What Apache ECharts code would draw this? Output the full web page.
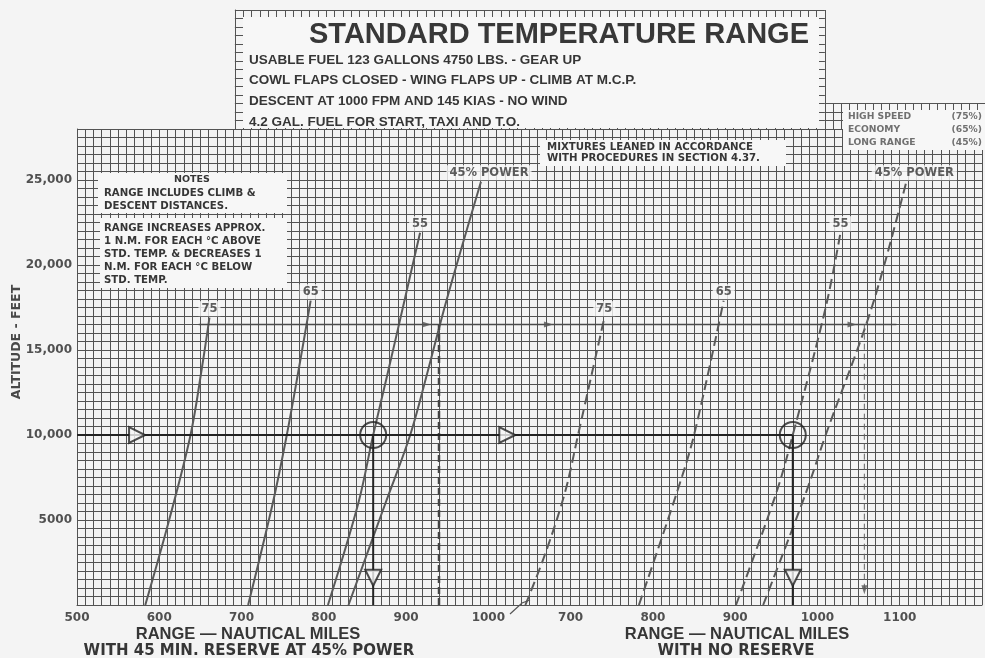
<!DOCTYPE html>
<html>
<head>
<meta charset="utf-8">
<script src="https://cdn.jsdelivr.net/npm/echarts@6/dist/echarts.min.js"></script>
<style>
  html, body { margin: 0; padding: 0; background: #f4f4f4; }
  #chart { width: 985px; height: 658px; }
</style>
</head>
<body>
<div id="chart"></div>
<script>
// ---- scales -------------------------------------------------------------
// The "no reserve" scale is the "with reserve" scale shifted by 400 NM:
// 1000 NM (reserve) sits where 600 NM (no reserve) would be.
const scaleShift = 400;

// ---- tick labels --------------------------------------------------------
const altitudeTicks = [5000, 10000, 15000, 20000, 25000];
const altitudeTickLabels = ['5000', '10,000', '15,000', '20,000', '25,000'];
const reserveRangeTicks = [500, 600, 700, 800, 900, 1000];
const noReserveRangeTicks = [700, 800, 900, 1000, 1100];

// ---- power curves: [range NM, altitude ft] -----------------------------
// with 45 min reserve at 45% power (solid)
const reserve75 = [[583, 0], [612, 5000], [638, 10000], [652, 14000], [661, 16900]];
const reserve65 = [[708, 0], [738, 6000], [755, 10000], [770, 14000], [784, 17900]];
const reserve55 = [[805, 0], [842, 6000], [860, 10000], [877, 13500], [898, 17900], [917, 21900]];
const reserve45 = [[830, 0], [875, 6000], [905, 10000], [925, 13500], [949, 17900], [991, 24900]];
// no reserve (dashed)
const noReserve75 = [[645, 0], [669, 3000], [693, 6600], [709, 10000], [741, 16900]];
const noReserve65 = [[783, 0], [829, 6600], [850, 10000], [886, 17900]];
const noReserve55 = [[901, 0], [950, 6600], [970, 10000], [1010, 17500], [1028, 21900]];
const noReserve45 = [[934, 0], [986, 6600], [1010, 10000], [1066, 17500], [1108, 24900]];
const curveLabels = ['75', '65', '55', '45% POWER'];

// ---- worked example -----------------------------------------------------
const exampleAltitude = 10000;
const exampleReserveRange = 860;
const exampleNoReserveRange = 970;
const examplePathArrowsReserve = [573];      // right-pointing, reserve scale
const examplePathArrowsNoReserve = [623];    // right-pointing, no-reserve scale
const exampleDropArrowAltitude = 1600;

// ---- 16,500 ft reference line and drop lines ---------------------------
const refAltitude = 16500;
const refLineReserveStart = 648;
const refLineNoReserveEnd = 1096;
const refDropReserve = 940;
const refDropNoReserve = 1057;
const refDropArrowAltitude = 900;
const refMarksReserve = [925];
const refMarksNoReserve = [673, 1042];

// ---- layout -------------------------------------------------------------
const PLOT_LEFT = 77;
const PX_PER_NM = 0.831;
const PX_PER_FT = 0.017;
const PLOT_BOTTOM = 605;
const RANGE_MIN = 500, RANGE_MAX = 1600;
const ALT_MAX = 28000;
const plotTop = PLOT_BOTTOM - ALT_MAX * PX_PER_FT;

const GRID_COLOR = '#535353';
const CURVE_COLOR = '#5a5a5a';
const INK = '#222';
const TEXT = '#363636';
const FONT = '"Liberation Sans", Arial, sans-serif';
const WIDE = '"DejaVu Sans", "Liberation Sans", sans-serif';

function gridAxisX(gridIndex, min, max, extra) {
  return Object.assign({
    type: 'value', gridIndex, min, max, interval: 10, position: 'bottom',
    axisLine: { show: true, onZero: false, lineStyle: { color: GRID_COLOR, width: 1 } },
    axisTick: { show: false },
    axisLabel: { show: false },
    splitLine: { show: true, lineStyle: { color: GRID_COLOR, width: 1 } }
  }, extra || {});
}
function gridAxisY(gridIndex, min, max, extra) {
  return Object.assign({
    type: 'value', gridIndex, min, max, interval: 500,
    axisLine: { show: true, lineStyle: { color: GRID_COLOR, width: 1 } },
    axisTick: { show: false },
    axisLabel: { show: false },
    splitLine: { show: true, lineStyle: { color: GRID_COLOR, width: 1 } }
  }, extra || {});
}

const tickLabelStyle = { color: '#505050', fontFamily: WIDE, fontWeight: 'bold', fontSize: 12 };

const xAxes = [
  gridAxisX(0, RANGE_MIN, RANGE_MAX, {
    axisLabel: Object.assign({
      show: true, interval: 0, margin: 7,
      formatter: v => reserveRangeTicks.includes(v) ? String(v) : ''
    }, tickLabelStyle)
  }),
  gridAxisX(0, RANGE_MIN - scaleShift, RANGE_MAX - scaleShift, {
    axisLine: { show: false },
    splitLine: { show: false },
    axisLabel: Object.assign({
      show: true, interval: 0, margin: 7,
      formatter: v => noReserveRangeTicks.includes(v) ? String(v) : ''
    }, tickLabelStyle)
  }),
  gridAxisX(1, 690, 1400),
  gridAxisX(2, 1400, 1600)
];
const yAxes = [
  gridAxisY(0, 0, ALT_MAX, {
    axisLabel: Object.assign({
      show: true, interval: 0, margin: 5,
      formatter: v => { const i = altitudeTicks.indexOf(v); return i >= 0 ? altitudeTickLabels[i] : ''; }
    }, tickLabelStyle)
  }),
  gridAxisY(1, 28000, 35000),
  gridAxisY(2, 28000, 29500)
];

function curve(name, data, axis, dashed) {
  return {
    name, type: 'line', xAxisIndex: axis, yAxisIndex: 0, data,
    smooth: 0.35, symbol: 'none', z: 3,
    lineStyle: { color: CURVE_COLOR, width: 2, type: dashed ? [10, 5] : 'solid' }
  };
}
// power tag sitting on the top end of each curve; the long tag reads to the right
function curveTags(curves, axis) {
  return {
    type: 'scatter', xAxisIndex: axis, yAxisIndex: 0, z: 5,
    symbol: 'rect', symbolSize: 1,
    itemStyle: { color: 'rgba(0,0,0,0)' },
    data: curves.map((c, i) => ({
      value: c[c.length - 1], name: curveLabels[i],
      label: i === curves.length - 1 ? { offset: [8, 0] } : {}
    })),
    label: {
      show: true, position: 'top', distance: 1, formatter: p => p.name,
      color: TEXT, fontFamily: WIDE, fontWeight: 'bold', fontSize: 11.5,
      backgroundColor: '#f7f7f7', padding: [2, 3, 1, 3]
    }
  };
}
function path(data, axis, style) {
  return {
    type: 'line', xAxisIndex: axis, yAxisIndex: 0, data, symbol: 'none',
    z: 4, lineStyle: Object.assign({ color: INK, width: 2 }, style || {})
  };
}
function markers(data, axis, symbol, rotate, size, extra) {
  return Object.assign({
    type: 'scatter', xAxisIndex: axis, yAxisIndex: 0, data,
    symbol, symbolRotate: rotate, symbolSize: size, z: 6,
    itemStyle: { color: '#f7f7f7', borderColor: INK, borderWidth: 2 }
  }, extra || {});
}

const reserveCurves = [reserve75, reserve65, reserve55, reserve45];
const noReserveCurves = [noReserve75, noReserve65, noReserve55, noReserve45];

const series = [];
reserveCurves.forEach((c, i) => series.push(curve('reserve ' + curveLabels[i], c, 0, false)));
noReserveCurves.forEach((c, i) => series.push(curve('no reserve ' + curveLabels[i], c, 1, true)));
series.push(curveTags(reserveCurves, 0));
series.push(curveTags(noReserveCurves, 1));

// 16,500 ft reference line and its drop lines
series.push(path([[refLineReserveStart, refAltitude], [refLineNoReserveEnd + scaleShift, refAltitude]], 0,
  { color: '#4a4a4a', width: 1.6 }));
series.push(path([[refDropReserve, 0], [refDropReserve, refAltitude]], 0,
  { color: '#444', width: 2.5, type: [7, 4] }));
series.push(path([[refDropNoReserve, refDropArrowAltitude], [refDropNoReserve, refAltitude]], 1,
  { color: '#666', width: 1, type: [6, 4] }));
series.push(markers([[refDropNoReserve, refDropArrowAltitude]], 1, 'triangle', 180, [6, 9],
  { itemStyle: { color: '#555' } }));
series.push(markers(refMarksReserve.map(x => [x, refAltitude]), 0, 'triangle', -90, [6, 9],
  { itemStyle: { color: '#555' } }));
series.push(markers(refMarksNoReserve.map(x => [x, refAltitude]), 1, 'triangle', -90, [6, 9],
  { itemStyle: { color: '#555' } }));

// worked example: 10,000 ft across to the power curves, then down to range
series.push(path([[RANGE_MIN, exampleAltitude], [exampleNoReserveRange + scaleShift, exampleAltitude]], 0));
series.push(path([[exampleReserveRange, exampleAltitude], [exampleReserveRange, 0]], 0));
series.push(path([[exampleNoReserveRange, exampleAltitude], [exampleNoReserveRange, 0]], 1));
series.push(markers([[exampleReserveRange, exampleAltitude]], 0, 'circle', 0, 26,
  { itemStyle: { color: 'rgba(0,0,0,0)', borderColor: INK, borderWidth: 2 } }));
series.push(markers([[exampleNoReserveRange, exampleAltitude]], 1, 'circle', 0, 26,
  { itemStyle: { color: 'rgba(0,0,0,0)', borderColor: INK, borderWidth: 2 } }));
series.push(markers(examplePathArrowsReserve.map(x => [x, exampleAltitude]), 0, 'triangle', -90, [16, 16]));
series.push(markers(examplePathArrowsNoReserve.map(x => [x, exampleAltitude]), 1, 'triangle', -90, [16, 16]));
series.push(markers([[exampleReserveRange, exampleDropArrowAltitude]], 0, 'triangle', 180, [16, 16]));
series.push(markers([[exampleNoReserveRange, exampleDropArrowAltitude]], 1, 'triangle', 180, [16, 16]));

// ---- text panels --------------------------------------------------------
function box(x, y, w, h) {
  return { type: 'rect', shape: { x, y, width: w, height: h }, style: { fill: '#f7f7f7' }, z: 10 };
}
function txt(text, x, y, size, opts, family) {
  return {
    type: 'text', x, y, z: 11,
    style: Object.assign({
      text, fill: TEXT, font: 'bold ' + size + 'px ' + (family || FONT),
      textAlign: 'left', textVerticalAlign: 'middle'
    }, opts || {})
  };
}
const conditionLines = [
  'USABLE FUEL 123 GALLONS 4750 LBS. - GEAR UP',
  'COWL FLAPS CLOSED - WING FLAPS UP - CLIMB AT M.C.P.',
  'DESCENT AT 1000 FPM AND 145 KIAS - NO WIND',
  '4.2 GAL. FUEL FOR START, TAXI AND T.O.'
];
const noteLinesA = ['RANGE INCLUDES CLIMB &', 'DESCENT DISTANCES.'];
const noteLinesB = ['RANGE INCREASES APPROX.', '1 N.M. FOR EACH \u00B0C ABOVE',
  'STD. TEMP. & DECREASES 1', 'N.M. FOR EACH \u00B0C BELOW', 'STD. TEMP.'];
const mixtureLines = ['MIXTURES LEANED IN ACCORDANCE', 'WITH PROCEDURES IN SECTION 4.37.'];
const powerSettings = [['HIGH SPEED', '(75%)'], ['ECONOMY', '(65%)'], ['LONG RANGE', '(45%)']];

const graphic = [];
graphic.push(box(243, 17, 576, 111));
graphic.push(txt('STANDARD TEMPERATURE RANGE', 559, 35, 29, { textAlign: 'center', fill: '#383838' }));
conditionLines.forEach((t, i) => graphic.push(txt(t, 249, 60 + i * 20.7, 13.5)));

graphic.push(box(98, 173, 189, 40));
graphic.push(txt('NOTES', 192, 180, 9.5, { textAlign: 'center' }, WIDE));
noteLinesA.forEach((t, i) => graphic.push(txt(t, 104, 193 + i * 13, 10.2, null, WIDE)));
graphic.push(box(100, 218, 187, 70));
noteLinesB.forEach((t, i) => graphic.push(txt(t, 104, 228 + i * 13, 10.2, null, WIDE)));

graphic.push(box(540, 140, 246, 26));
mixtureLines.forEach((t, i) => graphic.push(txt(t, 547, 147 + i * 11.5, 10.2, null, WIDE)));

graphic.push(box(843, 110, 142, 40));
powerSettings.forEach((p, i) => {
  graphic.push(txt(p[0], 848, 117 + i * 13, 9.2, { fill: '#707070' }, WIDE));
  graphic.push(txt(p[1], 982, 117 + i * 13, 9.2, { fill: '#707070', textAlign: 'right' }, WIDE));
});

// axis titles
const altitudeTitle = txt('ALTITUDE - FEET', 17, 342, 12.5, { textAlign: 'center', fill: '#484848' }, WIDE);
altitudeTitle.rotation = Math.PI / 2;
graphic.push(altitudeTitle);
graphic.push(txt('RANGE \u2014 NAUTICAL MILES', 248, 634, 16.5, { textAlign: 'center' }));
graphic.push(txt('WITH 45 MIN. RESERVE AT 45% POWER', 249, 651, 15, { textAlign: 'center' }, WIDE));
graphic.push(txt('RANGE \u2014 NAUTICAL MILES', 737, 634, 16.5, { textAlign: 'center' }));
graphic.push(txt('WITH NO RESERVE', 736, 651, 15, { textAlign: 'center' }, WIDE));
// scale break between the two range scales
graphic.push({ type: 'polyline', z: 11, shape: { points: [[510, 614], [522, 603], [530, 600]] },
  style: { stroke: '#555', lineWidth: 1.2, fill: null } });

const chart = echarts.init(document.getElementById('chart'), null, { renderer: 'canvas' });
chart.setOption({
  backgroundColor: '#f4f4f4',
  animation: false,
  grid: [
    { left: PLOT_LEFT, top: plotTop, width: (RANGE_MAX - RANGE_MIN) * PX_PER_NM, height: ALT_MAX * PX_PER_FT },
    { left: PLOT_LEFT + (690 - RANGE_MIN) * PX_PER_NM, top: plotTop - 7000 * PX_PER_FT,
      width: (1400 - 690) * PX_PER_NM, height: 7000 * PX_PER_FT },
    { left: PLOT_LEFT + (1400 - RANGE_MIN) * PX_PER_NM, top: plotTop - 1500 * PX_PER_FT,
      width: (1600 - 1400) * PX_PER_NM, height: 1500 * PX_PER_FT }
  ],
  xAxis: xAxes,
  yAxis: yAxes,
  series,
  graphic
});
</script>
</body>
</html>
